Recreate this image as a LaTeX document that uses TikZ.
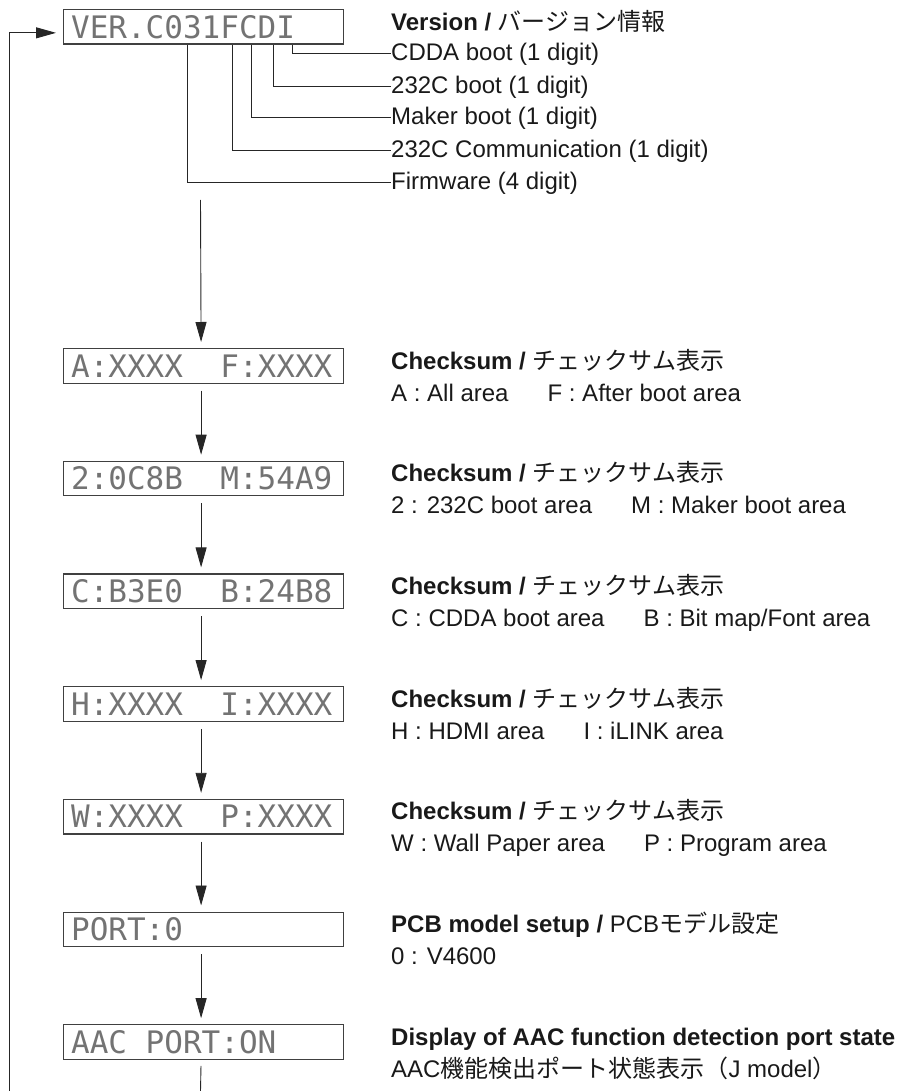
\documentclass[tikz,border=0pt]{standalone}
\usepackage{fontspec}
\setmainfont{Liberation Sans}
\newfontfamily\jp{Noto Sans CJK JP}
\newfontfamily\lcd{DejaVu Sans Mono}
\usetikzlibrary{arrows.meta}
\newcommand{\lcdsp}{\phantom{X}}
\begin{document}
\begin{tikzpicture}[x=1pt,y=-1pt,
  lcdbox/.style={draw=black!75, line width=1.2pt, anchor=north west,
    minimum height=34.5pt, inner xsep=7.5pt, inner ysep=0pt, text width=265pt,
    align=left, text height=22.5pt, text depth=0pt,
    font=\lcd\fontsize{31}{31}\selectfont, text=black!55},
  ttl/.style={anchor=west, inner sep=0pt, text height=16pt, text depth=0pt,
    font=\fontsize{24}{24}\selectfont, text=black!90},
  link/.style={draw=black!85, line width=0.9pt},
  tip/.style={-{Triangle[length=20pt,width=11pt]}},
  arr/.style={link, tip, shorten <=7pt, shorten >=6pt}]
\useasboundingbox (0,0) rectangle (907,1091);

% LCD boxes
\node[lcdbox] (ver) at (63,9) {VER.C031FCDI};
\node[lcdbox] (a) at (63,348) {A:XXXX\lcdsp\lcdsp F:XXXX};
\node[lcdbox] (b) at (63,460.7) {2:0C8B\lcdsp\lcdsp M:54A9};
\node[lcdbox] (c) at (63,573.4) {C:B3E0\lcdsp\lcdsp B:24B8};
\node[lcdbox] (h) at (63,686.1) {H:XXXX\lcdsp\lcdsp I:XXXX};
\node[lcdbox] (w) at (63,798.8) {W:XXXX\lcdsp\lcdsp P:XXXX};
\node[lcdbox] (p) at (63,911.5) {PORT:0};
\node[lcdbox] (aac) at (63,1024.2) {AAC\lcdsp PORT:ON};

% Version labels
\node[ttl] (vt) at (391,23) {\textbf{Version /} {\jp バージョン情報}};
\node[ttl] (l1) at (391,53) {CDDA boot (1 digit)};
\node[ttl] (l2) at (391,86) {232C boot (1 digit)};
\node[ttl] (l3) at (391,117) {Maker boot (1 digit)};
\node[ttl] (l4) at (391,150) {232C Communication (1 digit)};
\node[ttl] (l5) at (391,182) {Firmware (4 digit)};

\draw[link] ([xshift=229pt]ver.south west) |- (l1.west);
\draw[link] ([xshift=210pt]ver.south west) |- (l2.west);
\draw[link] ([xshift=188pt]ver.south west) |- (l3.west);
\draw[link] ([xshift=169pt]ver.south west) |- (l4.west);
\draw[link] ([xshift=124pt]ver.south west) |- (l5.west);

% Descriptions
\node[ttl] (at) at (391,361) {\textbf{Checksum /} {\jp チェックサム表示}};
\node[ttl] (ad) at (391,393) {A : All area\hspace{39pt}F : After boot area};
\node[ttl] (bt) at (391,473.7) {\textbf{Checksum /} {\jp チェックサム表示}};
\node[ttl] (bd) at (391,505.7) {2 : 232C boot area\hspace{39pt}M : Maker boot area};
\node[ttl] (ct) at (391,586.4) {\textbf{Checksum /} {\jp チェックサム表示}};
\node[ttl] (cd) at (391,618.4) {C : CDDA boot area\hspace{39pt}B : Bit map/Font area};
\node[ttl] (ht) at (391,699.1) {\textbf{Checksum /} {\jp チェックサム表示}};
\node[ttl] (hd) at (391,731.1) {H : HDMI area\hspace{39pt}I : iLINK area};
\node[ttl] (wt) at (391,811.8) {\textbf{Checksum /} {\jp チェックサム表示}};
\node[ttl] (wd) at (391,843.8) {W : Wall Paper area\hspace{39pt}P : Program area};
\node[ttl] (pt) at (391,924.5) {\textbf{PCB model setup /} PCB{\jp モデル設定}};
\node[ttl] (pd) at (391,956.5) {0 : V4600};
\node[ttl] (xt) at (391,1037.2) {\textbf{Display of AAC function detection port state}};
\node[ttl] (xd) at (391,1069.2) {AAC{\jp 機能検出ポート状態表示（}J model{\jp ）}};

% main flow
\coordinate (top) at (200.5,200);
\coordinate (bot) at (200.5,1091);
\coordinate (loopbot) at (9,1091);
\draw[arr, shorten <=0pt] (top) -- ([xshift=-2.5pt]a.north);
\draw[arr] ([xshift=-2.5pt]a.south) -- ([xshift=-2.5pt]b.north);
\draw[arr] ([xshift=-2.5pt]b.south) -- ([xshift=-2.5pt]c.north);
\draw[arr] ([xshift=-2.5pt]c.south) -- ([xshift=-2.5pt]h.north);
\draw[arr] ([xshift=-2.5pt]h.south) -- ([xshift=-2.5pt]w.north);
\draw[arr] ([xshift=-2.5pt]w.south) -- ([xshift=-2.5pt]p.north);
\draw[arr] ([xshift=-2.5pt]p.south) -- ([xshift=-2.5pt]aac.north);
\draw[link, shorten <=6pt] ([xshift=-2.5pt]aac.south) -- (bot);

% loop back
\draw[link, tip, shorten >=7pt] (loopbot) |- ([yshift=-6pt]ver.west);
\end{tikzpicture}
\end{document}
